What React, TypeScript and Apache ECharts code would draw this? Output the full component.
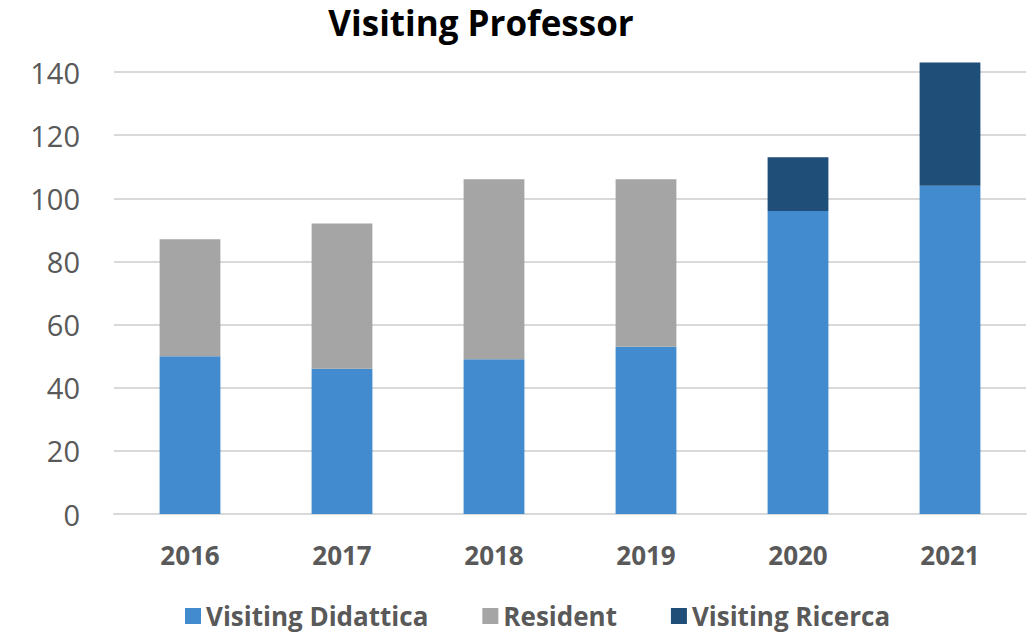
import React, { useEffect, useRef } from "react";
import * as echarts from "echarts";

const years = ["2016", "2017", "2018", "2019", "2020", "2021"];
const visitingDidattica = [50, 46, 49, 53, 96, 104];
const resident = [37, 46, 57, 53, null, null];
const visitingRicerca = [null, null, null, null, 17, 39];
const yTicks = { min: 0, max: 140, interval: 20 };

export default function App() {
  const ref = useRef<HTMLDivElement>(null);
  useEffect(() => {
    document.body.style.margin = "0";
    const chart = echarts.init(ref.current!, null, { renderer: "svg" });
    const font = "'Open Sans', sans-serif";
    chart.setOption({
      animation: false,
      backgroundColor: "#ffffff",
      title: {
        text: "Visiting Professor",
        left: 476,
        textAlign: "center",
        top: 0,
        textStyle: { fontFamily: font, fontWeight: "bold", fontSize: 35, color: "#000000" },
      },
      legend: {
        left: 185,
        top: 603,
        icon: "rect",
        itemWidth: 16,
        itemHeight: 16,
        itemGap: 54,
        padding: 0,
        textStyle: {
          fontFamily: font,
          fontWeight: "bold",
          fontSize: 26,
          lineHeight: 26,
          color: "#595959",
        },
        data: ["Visiting Didattica", "Resident", "Visiting Ricerca"],
      },
      grid: { left: 114, right: 9, top: 72, height: 442 },
      xAxis: {
        type: "category",
        data: years,
        axisTick: { show: false },
        axisLine: { lineStyle: { color: "#D9D9D9", width: 2 } },
        axisLabel: {
          margin: 28,
          fontFamily: font,
          fontWeight: "bold",
          fontSize: 26,
          color: "#595959",
        },
      },
      yAxis: {
        type: "value",
        min: yTicks.min,
        max: yTicks.max,
        interval: yTicks.interval,
        axisLine: { show: false },
        axisTick: { show: false },
        splitLine: { lineStyle: { color: "#D9D9D9", width: 2 } },
        axisLabel: { margin: 34, fontFamily: font, fontSize: 29, color: "#595959" },
      },
      series: [
        {
          name: "Visiting Didattica",
          type: "bar",
          stack: "total",
          barWidth: "40%",
          clip: false,
          data: visitingDidattica,
          itemStyle: { color: "#428BCE" },
        },
        {
          name: "Resident",
          type: "bar",
          stack: "total",
          clip: false,
          data: resident,
          itemStyle: { color: "#A5A5A5" },
        },
        {
          name: "Visiting Ricerca",
          type: "bar",
          stack: "total",
          clip: false,
          data: visitingRicerca,
          itemStyle: { color: "#1F4E79" },
        },
      ],
    });
    return () => chart.dispose();
  }, []);
  return <div ref={ref} style={{ width: 1035, height: 634 }} />;
}
